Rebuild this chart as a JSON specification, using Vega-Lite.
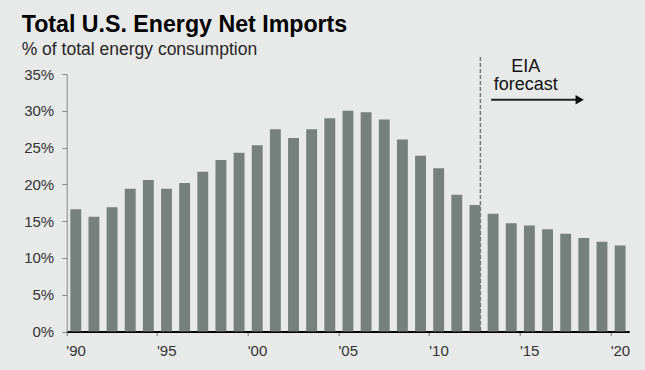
{
  "$schema": "https://vega.github.io/schema/vega-lite/v6.json",
  "width": 562.5,
  "height": 257.5,
  "autosize": "none",
  "padding": {"left": 66.7, "top": 74, "right": 15.8, "bottom": 38.5},
  "background": "#e8e9e9",
  "config": {"view": {"stroke": null}, "font": "Liberation Sans"},
  "title": {
    "text": "Total U.S. Energy Net Imports",
    "subtitle": "% of total energy consumption",
    "anchor": "start",
    "frame": "group",
    "dx": -45,
    "offset": -3,
    "font": "Liberation Sans",
    "fontSize": 23.2,
    "fontWeight": "bold",
    "color": "#000000",
    "subtitleFont": "Liberation Sans",
    "subtitleFontSize": 17.5,
    "subtitleColor": "#262626",
    "subtitlePadding": 4
  },
  "resolve": {"axis": {"x": "independent", "y": "independent"}},
  "layer": [
    {
      "data": {"values": [
        {"year": 1990, "pct": 16.6}, {"year": 1991, "pct": 15.6}, {"year": 1992, "pct": 16.9},
        {"year": 1993, "pct": 19.4}, {"year": 1994, "pct": 20.6}, {"year": 1995, "pct": 19.4},
        {"year": 1996, "pct": 20.2}, {"year": 1997, "pct": 21.7}, {"year": 1998, "pct": 23.3},
        {"year": 1999, "pct": 24.3}, {"year": 2000, "pct": 25.3}, {"year": 2001, "pct": 27.5},
        {"year": 2002, "pct": 26.3}, {"year": 2003, "pct": 27.5}, {"year": 2004, "pct": 29.0},
        {"year": 2005, "pct": 30.0}, {"year": 2006, "pct": 29.8}, {"year": 2007, "pct": 28.8},
        {"year": 2008, "pct": 26.1}, {"year": 2009, "pct": 23.9}, {"year": 2010, "pct": 22.2},
        {"year": 2011, "pct": 18.6}, {"year": 2012, "pct": 17.2}, {"year": 2013, "pct": 16.0},
        {"year": 2014, "pct": 14.7}, {"year": 2015, "pct": 14.4}, {"year": 2016, "pct": 13.9},
        {"year": 2017, "pct": 13.3}, {"year": 2018, "pct": 12.7}, {"year": 2019, "pct": 12.2},
        {"year": 2020, "pct": 11.7}
      ]},
      "mark": {"type": "bar", "color": "#76807d", "width": {"band": 0.6}},
      "encoding": {
        "x": {
          "field": "year", "type": "ordinal", "title": null,
          "scale": {"paddingInner": 0, "paddingOuter": 0},
          "axis": {
            "values": [1990, 1995, 2000, 2005, 2010, 2015, 2020],
            "bandPosition": 0,
            "labelAngle": 0,
            "labelAlign": "left",
            "labelOffset": -9.5,
            "labelOverlap": false,
            "labelExpr": "\"'\" + slice(datum.label, 2)",
            "labelFont": "Liberation Sans",
            "labelFontSize": 15,
            "labelColor": "#333333",
            "labelPadding": 8,
            "tickSize": 4,
            "tickColor": "#777777",
            "domainColor": "#000000",
            "domainWidth": 2,
            "grid": false
          }
        },
        "y": {
          "field": "pct", "type": "quantitative", "title": null,
          "scale": {"domain": [0, 35], "nice": false},
          "axis": {
            "values": [0, 5, 10, 15, 20, 25, 30, 35],
            "labelOverlap": false,
            "labelExpr": "datum.value + '%'",
            "grid": false,
            "domainColor": "#888888",
            "tickColor": "#888888",
            "tickSize": 5,
            "labelPadding": 8,
            "labelFont": "Liberation Sans",
            "labelFontSize": 15,
            "labelColor": "#333333"
          }
        }
      }
    },
    {
      "data": {"values": [{"year": 2012, "top": 37.3, "bottom": 0}]},
      "mark": {"type": "rule", "color": "#7a7a7a", "strokeDash": [4, 2], "strokeWidth": 1.5},
      "encoding": {
        "x": {"field": "year", "type": "ordinal", "bandPosition": 0.8, "axis": null},
        "y": {"field": "top", "type": "quantitative", "axis": null},
        "y2": {"field": "bottom"}
      }
    },
    {
      "data": {"values": [
        {"year": 2015, "v": 35.3, "label": "EIA"},
        {"year": 2015, "v": 32.8, "label": "forecast"}
      ]},
      "mark": {"type": "text", "font": "Liberation Sans", "fontSize": 18, "align": "center", "baseline": "alphabetic", "color": "#111111"},
      "encoding": {
        "x": {"field": "year", "type": "ordinal", "bandPosition": 0.3, "axis": null},
        "y": {"field": "v", "type": "quantitative", "axis": null},
        "text": {"field": "label"}
      }
    },
    {
      "data": {"values": [{"year": 2013, "to": 2018, "v": 31.5}]},
      "mark": {"type": "rule", "color": "#222222", "strokeWidth": 2},
      "encoding": {
        "x": {"field": "year", "type": "ordinal", "bandPosition": 0.39, "axis": null},
        "x2": {"field": "to", "bandPosition": 0.08},
        "y": {"field": "v", "type": "quantitative", "axis": null}
      }
    },
    {
      "data": {"values": [{"year": 2018, "v": 31.5}]},
      "mark": {"type": "point", "shape": "triangle-right", "filled": true, "color": "#111111", "opacity": 1, "size": 90},
      "encoding": {
        "x": {"field": "year", "type": "ordinal", "bandPosition": 0.27, "axis": null},
        "y": {"field": "v", "type": "quantitative", "axis": null}
      }
    }
  ]
}
